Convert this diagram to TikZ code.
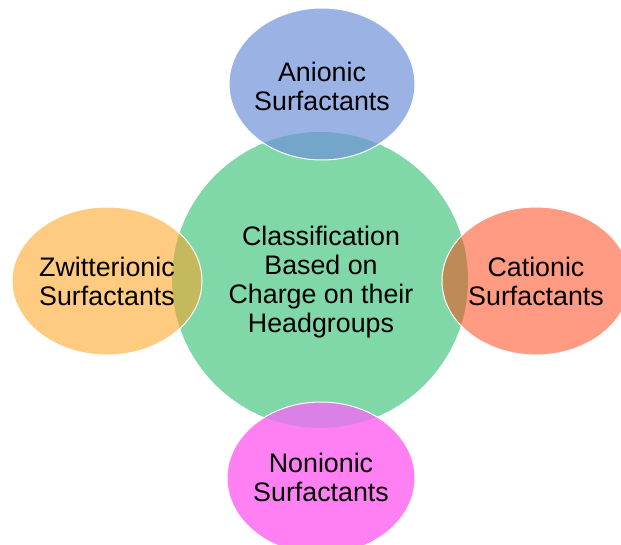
\documentclass[tikz,border=0pt]{standalone}
\usepackage{fontspec}
\setmainfont{Liberation Sans}
\definecolor{cgreen}{HTML}{80D7A8}
\definecolor{cblue}{HTML}{9BB3E4}
\definecolor{cred}{HTML}{FF9B82}
\definecolor{corange}{HTML}{FFCB80}
\definecolor{cpink}{HTML}{FF80F2}
\definecolor{oblue}{HTML}{74A6CA}
\definecolor{ored}{HTML}{BE8A58}
\definecolor{oorange}{HTML}{C4B95C}
\definecolor{opink}{HTML}{DB80E4}
\tikzset{
  lbl/.style={align=center, font=\fontsize{26.8}{29}\selectfont, text=black, inner sep=0pt},
  rim/.style={draw=white, line width=1pt}
}
\begin{document}
\begin{tikzpicture}[x=1pt,y=-1pt]
\useasboundingbox (0,0) rectangle (621,544);
\coordinate (C) at (320,280);
\coordinate (T) at (322,84);
\coordinate (L) at (107,281);
\coordinate (R) at (536,281);
\coordinate (B) at (321,478);
% central circle
\fill[cgreen] (C) circle [radius=148];
% satellites
\fill[cblue] (T) ellipse [x radius=93, y radius=76];
\fill[corange] (L) ellipse [x radius=95, y radius=74];
\fill[cred] (R) ellipse [x radius=94, y radius=74];
\fill[cpink] (B) ellipse [x radius=94, y radius=76];
% overlaps
\begin{scope}
  \clip (T) ellipse [x radius=93, y radius=76];
  \fill[oblue] (C) circle [radius=148];
\end{scope}
\begin{scope}
  \clip (L) ellipse [x radius=95, y radius=74];
  \fill[oorange] (C) circle [radius=148];
\end{scope}
\begin{scope}
  \clip (R) ellipse [x radius=94, y radius=74];
  \fill[ored] (C) circle [radius=148];
\end{scope}
\begin{scope}
  \clip (B) ellipse [x radius=94, y radius=76];
  \fill[opink] (C) circle [radius=148];
\end{scope}
% white rims
\draw[rim] (T) ellipse [x radius=93, y radius=76];
\draw[rim] (L) ellipse [x radius=95, y radius=74];
\draw[rim] (R) ellipse [x radius=94, y radius=74];
\draw[rim] (B) ellipse [x radius=94, y radius=76];
% texts
\node[lbl] (ctext) at (321,282) {Classification\\Based on\\Charge on their\\Headgroups};
\node[lbl] (ttext) at (322,86) {Anionic\\Surfactants};
\node[lbl] (ltext) at (107,281) {Zwitterionic\\Surfactants};
\node[lbl] (rtext) at (536,281) {Cationic\\Surfactants};
\node[lbl] (btext) at (321,477) {Nonionic\\Surfactants};
\end{tikzpicture}
\end{document}
